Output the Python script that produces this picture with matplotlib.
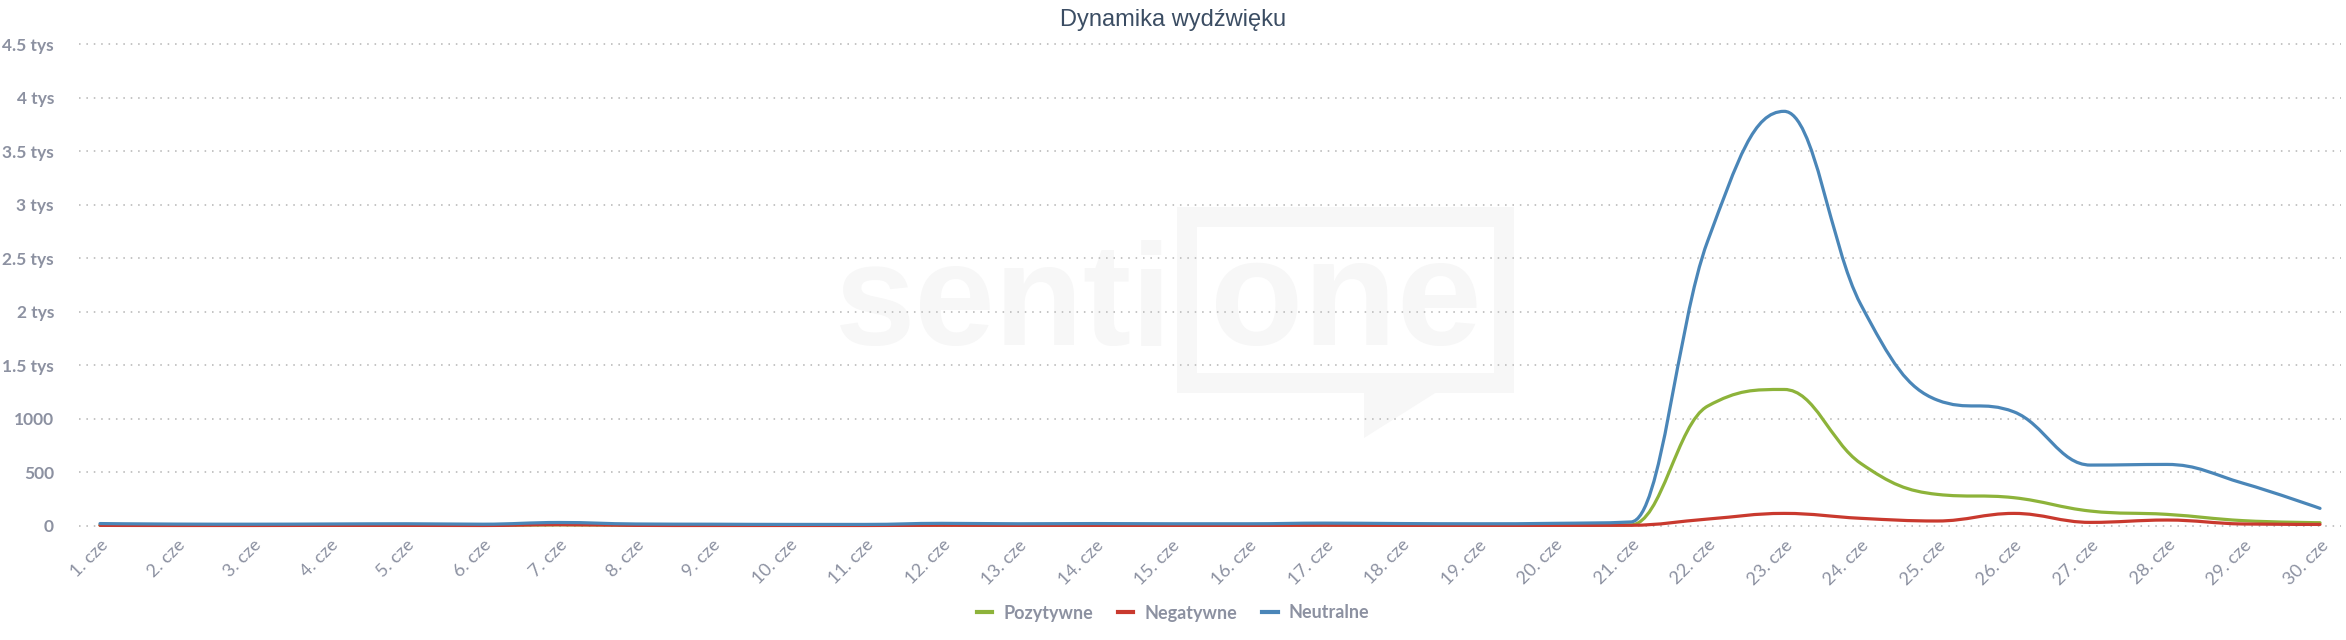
import numpy as np
import matplotlib
matplotlib.use("Agg")
from matplotlib import pyplot as plt
from matplotlib.path import Path
from matplotlib.patches import PathPatch, Rectangle, Polygon
from matplotlib.lines import Line2D

# data (mentions per day)
days = ["%d. cze" % d for d in range(1, 31)]
pozytywne = [5, 4, 4, 5, 5, 4, 8, 5, 4, 4, 4, 6, 5, 5, 5, 5, 6, 5, 5, 5,
             8, 1118, 1274, 583, 293, 262, 137, 106, 47, 28]
negatywne = [3, 2, 2, 3, 3, 2, 10, 3, 2, 2, 2, 4, 3, 3, 3, 3, 4, 3, 3, 3,
             4, 62, 115, 69, 44, 115, 31, 53, 16, 12]
neutralne = [20, 15, 14, 16, 18, 14, 30, 16, 14, 12, 12, 22, 18, 20, 18, 18,
             24, 20, 18, 22, 35, 2660, 3875, 2070, 1175, 1065, 567, 573, 396, 162]
series_names = ["Pozytywne", "Negatywne", "Neutralne"]
series_colors = ["#8db33a", "#c9392e", "#4a86b8"]
ytick_vals = [0, 500, 1000, 1500, 2000, 2500, 3000, 3500, 4000, 4500]
ytick_labels = ["0", "500", "1000", "1.5 tys", "2 tys", "2.5 tys", "3 tys",
                "3.5 tys", "4 tys", "4.5 tys"]

GRAY = "#8c91a1"
W, H = 2346, 640


def spline_path(xs, ys, smoothing=1.5):
    """Highcharts-style spline through the points, as a bezier Path."""
    n = len(xs)
    conts = []
    for i in range(n):
        if 0 < i < n - 1:
            px, py = xs[i], ys[i]
            lx, ly = xs[i - 1], ys[i - 1]
            nx, ny = xs[i + 1], ys[i + 1]
            d = smoothing + 1
            lcx, lcy = (smoothing * px + lx) / d, (smoothing * py + ly) / d
            rcx, rcy = (smoothing * px + nx) / d, (smoothing * py + ny) / d
            if rcx != lcx:
                corr = ((rcy - lcy) * (rcx - px)) / (rcx - lcx) + py - rcy
                lcy += corr
                rcy += corr
            if lcy > ly and lcy > py:
                lcy = max(ly, py)
                rcy = 2 * py - lcy
            elif lcy < ly and lcy < py:
                lcy = min(ly, py)
                rcy = 2 * py - lcy
            if rcy > ny and rcy > py:
                rcy = max(ny, py)
                lcy = 2 * py - rcy
            elif rcy < ny and rcy < py:
                rcy = min(ny, py)
                lcy = 2 * py - rcy
            conts.append((lcx, lcy, rcx, rcy))
        else:
            conts.append((xs[i], ys[i], xs[i], ys[i]))
    verts = [(xs[0], ys[0])]
    codes = [Path.MOVETO]
    for i in range(1, n):
        verts += [(conts[i - 1][2], conts[i - 1][3]),
                  (conts[i][0], conts[i][1]),
                  (xs[i], ys[i])]
        codes += [Path.CURVE4] * 3
    return Path(verts, codes)


fig = plt.figure(figsize=(W / 100, H / 100), dpi=100)
fig.patch.set_facecolor("white")

# plot area in pixels: x 79..2341, y 44.5..525.7
ax = fig.add_axes([79 / W, 1 - 525.7 / H, (2341 - 79) / W, (525.7 - 44.5) / H])
ax.patch.set_visible(False)

x = np.arange(len(days))
ax.set_xlim(-0.274, 29.274)
ax.set_ylim(0, 4500)

# faint watermark
px2ax_x = lambda p: (p - 79) / (2341 - 79)
px2ax_y = lambda p: (525.7 - p) / (525.7 - 44.5)
wm = "#f7f7f7"
ax.text(px2ax_x(835), px2ax_y(345), "senti", transform=ax.transAxes,
        fontsize=104, fontweight="bold", family="Liberation Sans", color=wm,
        va="baseline", ha="left", zorder=0)
ax.text(px2ax_x(1482), px2ax_y(345), "one", transform=ax.transAxes,
        fontsize=110, fontweight="bold", family="Liberation Sans", color=wm,
        va="baseline", ha="right", zorder=0)
ax.add_patch(Rectangle((px2ax_x(1187), px2ax_y(383)),
                       px2ax_x(1504) - px2ax_x(1187),
                       px2ax_y(217) - px2ax_y(383),
                       transform=ax.transAxes, fill=False, edgecolor=wm,
                       linewidth=14.4, zorder=0))
ax.add_patch(Polygon([(px2ax_x(1364), px2ax_y(390)), (px2ax_x(1440), px2ax_y(390)),
                      (px2ax_x(1364), px2ax_y(438))],
                     closed=True, transform=ax.transAxes, facecolor=wm,
                     edgecolor="none", zorder=0))

# dotted grid
for v in ytick_vals:
    ax.axhline(v, color="#c4c4c4", linewidth=1.4, linestyle=(0, (0.8, 3.0)),
               zorder=1, clip_on=False)

for vals, col in zip([pozytywne, negatywne, neutralne], series_colors):
    patch = PathPatch(spline_path(list(x), vals), fill=False, edgecolor=col,
                      linewidth=2.3, capstyle="round", joinstyle="round",
                      zorder=3, clip_on=False)
    ax.add_patch(patch)

for s in ax.spines.values():
    s.set_visible(False)

ax.set_yticks(ytick_vals)
ax.set_yticklabels(ytick_labels)
ax.set_xticks(x)
ax.set_xticklabels(days, rotation=45, ha="right", rotation_mode="anchor")
ax.tick_params(axis="both", length=0)
ax.tick_params(axis="y", pad=18)
ax.tick_params(axis="x", pad=8)
for lab in ax.get_yticklabels():
    lab.set_family("Lato")
    lab.set_fontweight("bold")
    lab.set_fontsize(12.5)
    lab.set_color(GRAY)
for lab in ax.get_xticklabels():
    lab.set_family("Lato")
    lab.set_fontsize(13)
    lab.set_color(GRAY)

fig.text(0.5, 1 - 20 / H, "Dynamika wydźwięku", ha="center", va="center",
         fontsize=17, family="Liberation Sans", color="#3b4d63")

handles = [Line2D([], [], color=c, linewidth=3) for c in series_colors]
leg = fig.legend(handles, series_names, loc="center", ncol=3,
                 bbox_to_anchor=(0.5, 1 - 613 / H), frameon=False,
                 handlelength=0.85, handletextpad=0.6, columnspacing=1.4,
                 prop={"family": "Lato", "weight": "bold", "size": 13})
for t in leg.get_texts():
    t.set_color(GRAY)

fig.savefig("out.png", dpi=100, facecolor="white")
